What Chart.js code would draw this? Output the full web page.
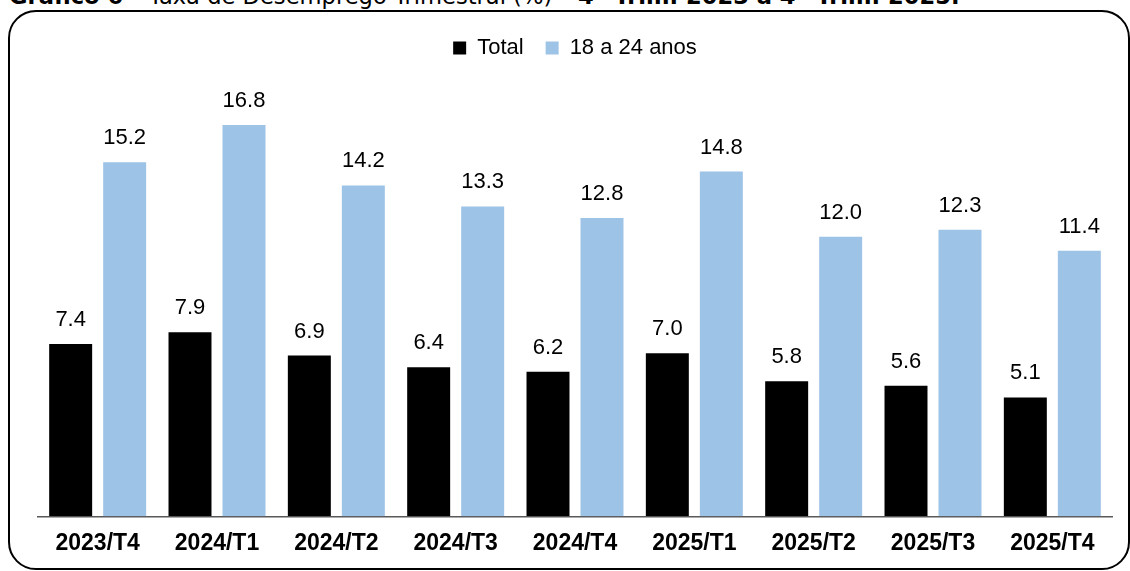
<!DOCTYPE html>
<html>
<head>
<meta charset="utf-8">
<script src="https://cdn.jsdelivr.net/npm/chart.js@4.4.1/dist/chart.umd.min.js"></script>
<style>
  html, body { margin: 0; padding: 0; background: #fff; overflow: hidden; }
  #wrap { position: relative; width: 1130px; height: 571px; }
  #title {
    position: absolute; left: 9px; top: -17px; white-space: nowrap;
    font-family: "DejaVu Sans", sans-serif; font-size: 22.6px; line-height: 26px; color: #000;
  }
  #frame {
    position: absolute; left: 8px; top: 10px; width: 1118px; height: 556px;
    border: 2px solid #000; border-radius: 28px; box-sizing: content-box;
  }
  #chart { position: absolute; left: 0; top: 0; }
</style>
</head>
<body>
<div id="wrap">
  <div id="title"><b>Gráfico 6</b> – Taxa de Desemprego Trimestral (%) – <b>4º Trim. 2023 a 4º Trim. 2025.</b></div>
  <div id="frame"></div>
  <canvas id="chart" width="1130" height="571"></canvas>
</div>
<script>
// Quarters shown on the x axis
const quarters = ['2023/T4', '2024/T1', '2024/T2', '2024/T3', '2024/T4', '2025/T1', '2025/T2', '2025/T3', '2025/T4'];

// Unemployment rate (%)
const totalRate = [7.4, 7.9, 6.9, 6.4, 6.2, 7.0, 5.8, 5.6, 5.1];
const youthRate = [15.2, 16.8, 14.2, 13.3, 12.8, 14.8, 12.0, 12.3, 11.4];

// Draws the value above each bar
const valueLabels = {
  id: 'valueLabels',
  afterDatasetsDraw(chart) {
    const ctx = chart.ctx;
    ctx.save();
    ctx.font = '22px "Liberation Sans", Arial, sans-serif';
    ctx.fillStyle = '#000';
    ctx.textAlign = 'center';
    ctx.textBaseline = 'alphabetic';
    chart.data.datasets.forEach((ds, i) => {
      chart.getDatasetMeta(i).data.forEach((bar, j) => {
        ctx.fillText(ds.data[j].toFixed(1), bar.x, bar.y - 18);
      });
    });
    ctx.restore();
  }
};

new Chart(document.getElementById('chart'), {
  type: 'bar',
  data: {
    labels: quarters,
    datasets: [
      {
        label: 'Total',
        data: totalRate,
        backgroundColor: '#000000',
        categoryPercentage: 0.905,
        barPercentage: 0.796
      },
      {
        label: '18 a 24 anos',
        data: youthRate,
        backgroundColor: '#9DC3E6',
        categoryPercentage: 0.905,
        barPercentage: 0.796
      }
    ]
  },
  options: {
    responsive: false,
    animation: false,
    layout: { padding: { left: 38, right: 18, top: 15, bottom: 0 } },
    plugins: {
      legend: {
        display: true,
        position: 'top',
        labels: {
          boxWidth: 13,
          boxHeight: 13,
          padding: 22,
          color: '#000',
          font: { family: '"Liberation Sans", Arial, sans-serif', size: 22 }
        }
      },
      tooltip: { enabled: false }
    },
    scales: {
      x: {
        grid: { display: false, drawTicks: false },
        border: { display: true, color: '#595959', width: 1.5 },
        ticks: {
          color: '#000',
          padding: 17,
          font: { family: '"Liberation Sans", Arial, sans-serif', size: 23, weight: 'bold', lineHeight: 0.9 }
        }
      },
      y: {
        display: false,
        min: 0,
        max: 19.2
      }
    }
  },
  plugins: [valueLabels]
});
</script>
</body>
</html>
